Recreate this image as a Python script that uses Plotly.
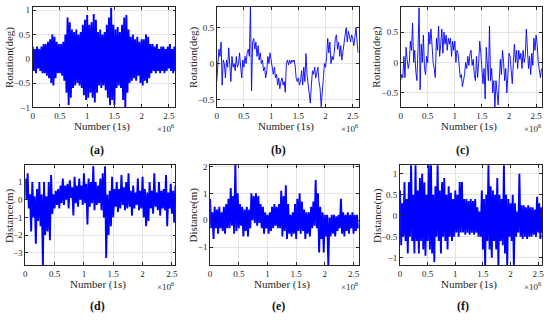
import numpy as np
import plotly.graph_objects as go

# ---------------- data (values per panel) ----------------
STEP = 0.02e6  # spacing between consecutive plotted samples (sample number)

# (a) rotation – dense signal: alternating upper / lower excursions
a_upper = [0.25, 0.2, 0.25, 0.2, 0.25, 0.3, 0.3, 0.35, 0.4, 0.5, 0.45, 0.35, 0.3, 0.3, 0.35, 0.5,
           0.85, 0.75, 0.6, 0.55, 0.6, 0.5, 0.55, 0.7, 0.8, 0.9, 0.7, 0.75, 0.92, 0.8, 0.55, 0.6,
           0.5, 0.55, 0.7, 0.85, 1.05, 0.7, 0.6, 0.65, 0.55, 0.7, 0.85, 0.9, 0.6, 0.45, 0.5, 0.4,
           0.45, 0.35, 0.4, 0.4, 0.5, 0.45, 0.3, 0.3, 0.25, 0.3, 0.2, 0.25, 0.25, 0.2, 0.25, 0.3,
           0.2, 0.25]
a_lower = [-0.25, -0.3, -0.2, -0.25, -0.3, -0.3, -0.35, -0.4, -0.5, -0.55, -0.4, -0.3, -0.3, -0.35,
           -0.45, -0.7, -0.95, -0.8, -0.6, -0.55, -0.5, -0.55, -0.6, -0.75, -0.85, -0.8, -0.7, -0.8,
           -0.9, -0.7, -0.55, -0.6, -0.55, -0.65, -0.8, -0.95, -0.85, -0.95, -0.6, -0.55, -0.6, -0.85,
           -1.0, -0.7, -0.5, -0.45, -0.4, -0.45, -0.35, -0.5, -0.55, -0.45, -0.5, -0.4, -0.3, -0.25,
           -0.3, -0.25, -0.3, -0.25, -0.3, -0.25, -0.2, -0.25, -0.3, -0.25]

# (b) rotation
b_values = [-0.25, 0.05, 0.2, 0.1, 0.3, -0.3, 0.05, 0.0, -0.2, 0.05, -0.05, 0.22, 0.0, -0.25, 0.1,
            -0.05, 0.0, -0.1, 0.1, -0.05, 0.0, 0.15, -0.05, -0.2, 0.05, -0.05, 0.1, 0.0, 0.15, 0.2,
            0.1, 0.8, -0.38, 0.3, 0.35, 0.2, 0.3, 0.1, 0.25, 0.05, 0.15, 0.0, 0.05, -0.1, -0.05,
            -0.2, -0.1, 0.1, 0.0, 0.15, 0.05, -0.05, -0.15, -0.05, -0.2, -0.15, -0.3, -0.2, -0.35,
            -0.25, -0.2, -0.3, -0.25, -0.4, 0.0, 0.05, -0.02, 0.05, 0.0, 0.05, 0.02, 0.05, -0.02,
            -0.2, -0.25, -0.2, -0.3, -0.25, -0.1, -0.3, -0.05, -0.25, 0.14, -0.15, -0.3, -0.45,
            -0.55, -0.3, -0.1, -0.15, -0.05, -0.2, -0.1, -0.05, -0.25, -0.35, -0.6, -0.3, -0.2, 0.0,
            -0.05, 0.1, 0.35, 0.15, 0.3, 0.0, 0.1, 0.05, 0.15, 0.35, 0.4, 0.2, 0.3, 0.1, 0.25, 0.05,
            0.2, 0.3, 0.4, 0.5, 0.3, 0.45, 0.35, 0.3, 0.4, 0.35, 0.25, 0.4, 0.5, 0.3, 0.15]

# (c) rotation
c_values = [-0.3, -0.2, -0.25, 0.1, -0.25, 0.25, 0.05, -0.1, 0.0, 0.35, 0.2, 0.65, 0.0, 0.2, -0.15,
            -0.3, 0.2, 0.9, -0.45, 0.3, 0.0, 0.45, -0.1, -0.2, 0.1, 0.0, 0.5, 0.3, 0.55, 0.2, 0.0,
            -0.1, -0.25, 0.4, 0.2, 0.6, 0.1, 0.3, 0.55, 0.15, 0.5, 0.3, 0.45, 0.2, 0.4, 0.3, 0.4,
            0.1, 0.35, 0.2, 0.35, 0.0, 0.2, 0.15, -0.1, -0.25, -0.2, -0.4, -0.3, -0.2, 0.0, -0.1,
            0.1, -0.05, 0.15, 0.2, -0.05, 0.05, -0.2, -0.3, 0.1, -0.25, 0.0, 0.35, 0.15, -0.15,
            -0.35, -0.1, -0.6, 0.25, 0.0, -0.3, 0.6, -0.3, -0.1, -0.5, -0.3, -0.75, -0.3, -0.5,
            -0.7, -0.3, 0.05, -0.2, 0.2, 0.0, -0.3, -0.1, -0.5, -0.2, 0.15, 0.1, -0.2, -0.35, 0.0,
            0.3, 0.0, 0.2, -0.1, 0.2, 0.05, 0.15, -0.1, 0.2, 0.0, 0.1, 0.55, 0.1, -0.1, 0.1, -0.2,
            0.15, -0.05, 0.4, 0.2, 0.45, 0.3, 0.0, -0.1, -0.25, -0.1]

# (d) distance – dense signal
d_upper = [1.2, 1.5, 0.3, 1.0, 0.2, 0.6, 1.0, 0.3, 1.0, 0.2, 1.0, 1.4, 0.3, 0.5, 0.6, 0.8, 1.2,
           0.8, 0.9, 1.1, 0.7, 1.3, 0.8, 1.2, 0.8, 1.5, 0.9, 1.2, 1.0, 1.9, 1.0, 0.8, 1.2, 1.5,
           1.9, 0.3, 0.5, 1.3, 0.6, 1.0, 0.6, 1.4, 0.7, 1.0, 1.5, 0.5, 0.8, 0.4, 1.2, 0.5, 1.3,
           0.6, 0.4, 1.0, 0.5, 1.5, 0.4, 1.0, 0.5, 0.6, 1.4, 0.4, 0.9, 0.5, 0.8]
d_lower = [0.0, -0.5, -1.8, -1.0, -2.5, -1.2, -1.5, -3.7, -2.0, -1.8, -2.3, -0.8, -0.5, -0.3,
           -0.5, -0.2, -0.3, 0.0, -0.5, 0.1, -0.9, -0.2, -0.4, 0.0, -0.3, -0.2, -1.4, -0.4, -0.2,
           -0.6, -0.3, -0.2, -0.6, -1.0, -3.3, -2.0, -1.5, -1.0, -0.4, -0.7, -0.5, -0.3, -0.6,
           -0.5, -0.4, -0.9, -0.5, -0.3, -0.6, -0.5, -1.0, -1.5, -1.2, -0.5, -0.8, -0.4, -0.6,
           -0.9, -0.5, -0.6, -1.5, -0.5, -0.8, -1.3, -0.5]

# (e) distance
e_upper = [0.8, 0.3, 0.5, 0.4, 0.5, 0.3, 0.5, 0.6, 0.8, 1.2, 0.9, 2.1, 1.0, 0.6, 0.5, 0.4, 0.5,
           0.4, 1.0, 0.9, 1.0, 0.9, 0.6, 0.5, 0.3, 0.2, 0.3, 0.5, 0.6, 0.5, 0.6, 1.1, 0.9, 1.3,
           0.6, 0.2, 0.3, 0.6, 0.8, 1.0, 0.7, 0.4, 0.3, 0.3, 0.5, 0.7, 1.5, 1.0, 0.5, 0.3, 0.2,
           0.2, 0.1, 0.2, 0.2, 0.15, 0.2, 0.8, 0.3, 0.2, 0.3, 0.2, 0.3, 0.2, 0.2]
e_lower = [-0.3, -0.7, -0.3, -0.5, -0.3, -0.4, -0.5, -0.3, -0.3, -0.2, -0.5, -0.4, -0.3, -0.2,
           -0.6, -0.4, -0.6, -0.3, 0.0, -0.1, -0.2, -0.1, -0.3, -0.5, -0.3, -0.5, -0.4, -0.3,
           -0.2, -0.3, -0.3, -0.6, -0.4, -0.7, -0.5, -0.6, -0.5, -0.7, -0.4, -0.5, -0.4, -0.7,
           -0.5, -0.6, -0.3, -0.2, -0.3, -1.2, -0.7, -1.2, -0.6, -1.7, -0.6, -0.5, -0.6, -0.4,
           -0.3, -0.5, -0.6, -0.4, -0.5, -0.3, -0.5, -0.4, -0.3]

# (f) distance
f_upper = [0.6, 0.3, 0.8, 0.4, 0.8, 1.2, 0.5, 1.2, 0.6, 0.9, 1.0, 0.8, 0.5, 1.2, 1.2, 0.5, 0.7,
           1.2, 0.6, 0.8, 0.9, 0.5, 0.7, 0.55, 0.4, 0.6, 0.5, 0.8, 0.8, 0.4, 0.4, 0.35, 0.4, 0.35,
           0.4, 0.2, 0.1, 0.6, 0.4, 0.5, 1.2, 0.7, 0.6, 0.5, 0.9, 0.5, 0.4, 1.2, 0.5, 0.4, 0.3,
           0.5, 0.3, 0.1, 1.0, 0.25, 0.25, 0.2, 0.25, 0.2, 0.2, 0.15, 0.45, 0.3, 0.2]
f_lower = [-0.7, -0.5, -0.6, -0.9, -0.5, -0.6, -0.9, -0.6, -0.9, -0.6, -0.8, -0.95, -0.6, -0.8,
           -0.9, -1.1, -0.5, -0.6, -0.9, -0.5, -0.6, -0.8, -0.5, -0.6, -0.5, -0.4, -0.5, -0.4,
           -0.4, -0.45, -0.4, -0.45, -0.4, -0.45, -0.4, -0.5, -0.5, -0.8, -1.2, -0.6, -0.8, -1.0,
           -0.6, -0.8, -1.2, -0.6, -0.7, -0.9, -1.2, -0.5, -0.6, -1.2, -0.5, -0.4, -0.5, -0.55,
           -0.5, -0.55, -0.5, -0.5, -0.45, -0.5, -0.4, -0.55, -0.4]

x_tick_vals = [0, 0.5e6, 1.0e6, 1.5e6, 2.0e6, 2.5e6]
x_tick_text = ["0", "0.5", "1", "1.5", "2", "2.5"]

y_ticks_a = [-1, -0.5, 0, 0.5, 1]
y_ticks_b = [-0.5, 0, 0.5]
y_ticks_c = [-0.5, 0, 0.5]
y_ticks_d = [-3, -2, -1, 0, 1]
y_ticks_e = [-1, 0, 1, 2]
y_ticks_f = [-1, -0.5, 0, 0.5, 1]

captions = ["(a)", "(b)", "(c)", "(d)", "(e)", "(f)"]
y_titles = ["Rotation(deg)"] * 3 + ["Distance(m)"] * 3
x_title = "Number (1s)"


def zigzag(upper, lower):
    n = min(len(upper), len(lower))
    ys = []
    for i in range(n):
        ys.append(upper[i])
        ys.append(lower[i])
    xs = np.arange(len(ys)) * STEP
    return xs, ys, True


def line(values):
    xs = np.arange(len(values)) * STEP
    return xs, values, False


series = [zigzag(a_upper, a_lower), line(b_values), line(c_values),
          zigzag(d_upper, d_lower), zigzag(e_upper, e_lower), zigzag(f_upper, f_lower)]

# ---------------- layout (pixel geometry of the 550x325 canvas) ----------------
W, H = 550, 325
panels = [
    dict(l=31, r=175, t=4, b=107, yr=[-1.0, 1.066], yt=y_ticks_a, xmax=2.62e6, ytx=7),
    dict(l=216.7, r=360, t=4, b=107, yr=[-0.61, 0.79], yt=y_ticks_b, xmax=2.61e6, ytx=192.5),
    dict(l=402.3, r=545, t=4, b=107, yr=[-0.74, 0.915], yt=y_ticks_c, xmax=2.61e6, ytx=378),
    dict(l=23.5, r=175, t=166, b=269, yr=[-3.72, 1.97], yt=y_ticks_d, xmax=2.56e6, ytx=7),
    dict(l=210, r=360, t=166, b=269, yr=[-1.68, 2.06], yt=y_ticks_e, xmax=2.59e6, ytx=193),
    dict(l=401.7, r=545, t=166, b=269, yr=[-1.18, 1.21], yt=y_ticks_f, xmax=2.57e6, ytx=378.3),
]
cap_pos = [(96, 151), (279, 151), (465, 151), (96, 311), (279, 311), (465, 311)]

FONT = "Liberation Serif, Times New Roman, serif"
AX = "#262626"
GRID = "#e3e3e3"
BLUE = "#0000ff"

fig = go.Figure()
layout = dict(width=W, height=H, margin=dict(l=0, r=0, t=0, b=0),
              paper_bgcolor="white", plot_bgcolor="white", showlegend=False,
              font=dict(family=FONT, size=9, color=AX))
annotations = []

for i, (p, (xs, ys, dense)) in enumerate(zip(panels, series)):
    k = "" if i == 0 else str(i + 1)
    fig.add_trace(go.Scatter(x=xs, y=ys, mode="lines", xaxis="x" + k, yaxis="y" + k,
                             line=dict(color=BLUE, width=1.9 if dense else 0.9),
                             hoverinfo="skip"))
    common = dict(showline=True, linecolor=AX, linewidth=0.8, mirror="ticks",
                  ticks="inside", ticklen=3, tickwidth=0.8, tickcolor=AX,
                  showgrid=True, gridcolor=GRID, gridwidth=0.8, zeroline=False,
                  tickfont=dict(family=FONT, size=9, color=AX))
    layout["xaxis" + k] = dict(domain=[p["l"] / W, p["r"] / W], range=[0, p["xmax"]],
                               tickvals=x_tick_vals, ticktext=x_tick_text,
                               anchor="y" + k, **common)
    layout["yaxis" + k] = dict(domain=[1 - p["b"] / H, 1 - p["t"] / H], range=p["yr"],
                               tickvals=p["yt"], anchor="x" + k, **common)
    cx = (p["l"] + p["r"]) / 2
    cy = (p["t"] + p["b"]) / 2
    annotations.append(dict(text=y_titles[i], x=p["ytx"] / W, y=1 - cy / H, xref="paper",
                            yref="paper", textangle=-90, showarrow=False,
                            xanchor="center", yanchor="middle",
                            font=dict(family=FONT, size=11, color=AX)))
    annotations.append(dict(text=x_title, x=(cx - 2) / W, y=1 - (p["b"] + 20) / H,
                            xref="paper", yref="paper", showarrow=False,
                            xanchor="center", yanchor="middle",
                            font=dict(family=FONT, size=11, color=AX)))
    annotations.append(dict(text="×10<sup>6</sup>", x=(p["r"] + 1) / W, y=1 - (p["b"] + 21) / H,
                            xref="paper", yref="paper", showarrow=False,
                            xanchor="right", yanchor="middle",
                            font=dict(family=FONT, size=9, color=AX)))
    annotations.append(dict(text="<b>" + captions[i] + "</b>", x=cap_pos[i][0] / W,
                            y=1 - cap_pos[i][1] / H, xref="paper", yref="paper",
                            showarrow=False, xanchor="center", yanchor="middle",
                            font=dict(family=FONT, size=12, color="#111111")))

layout["annotations"] = annotations
fig.update_layout(**layout)
fig.write_html("out.html", config={"displayModeBar": False},
               post_script="document.body.style.margin='0';document.body.style.overflow='hidden';")
